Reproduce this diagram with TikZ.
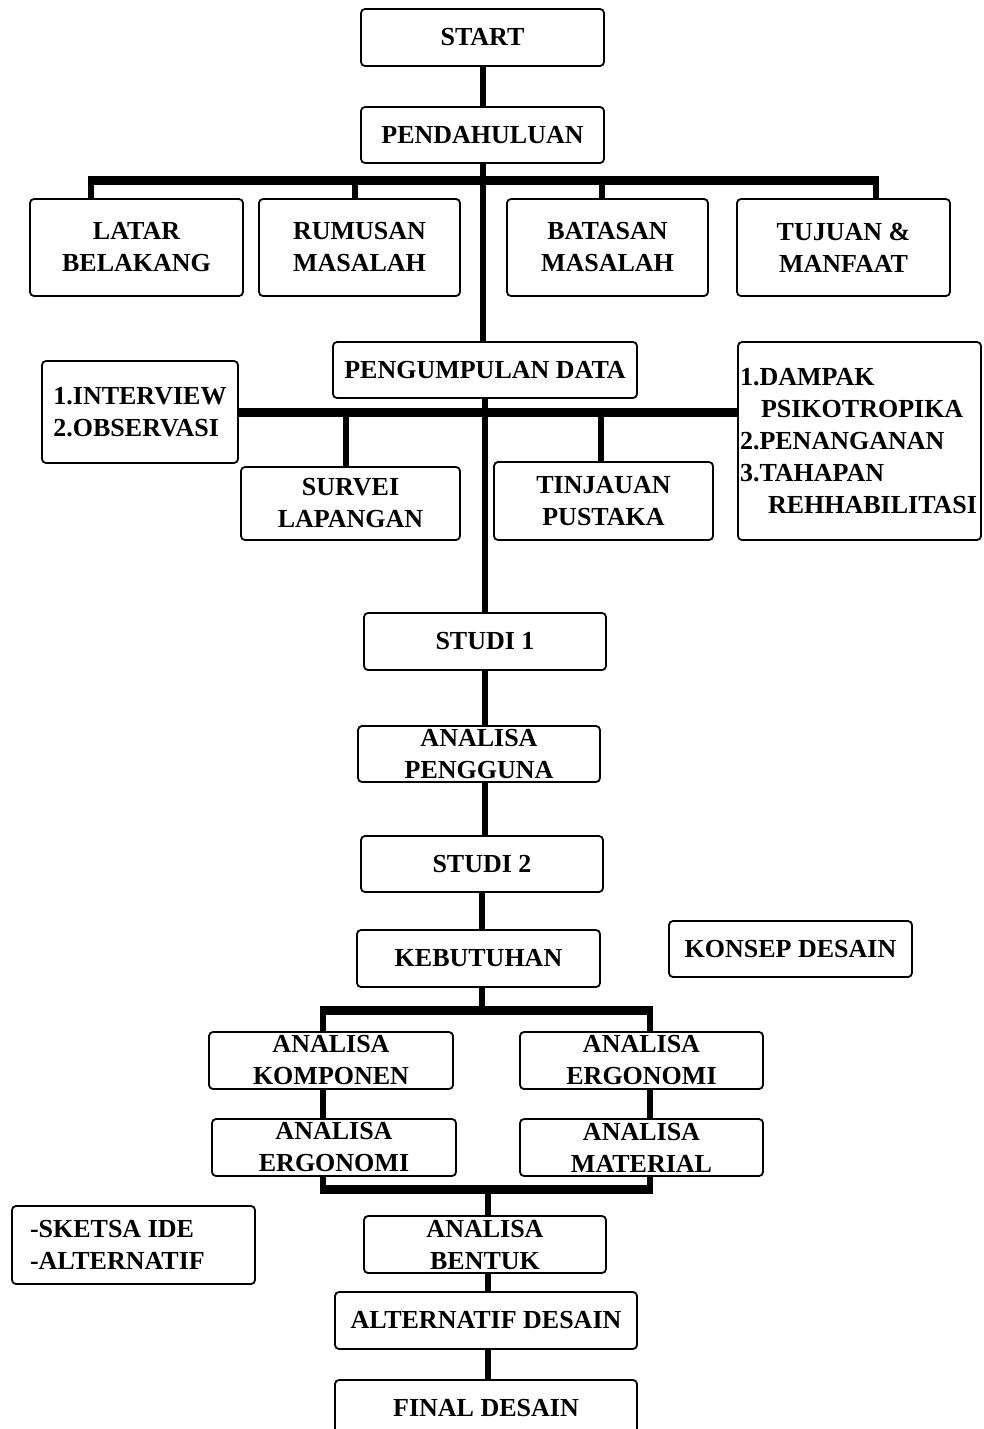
\documentclass[tikz,border=0pt]{standalone}
\usepackage{fontspec}
\setmainfont{Liberation Serif}
\usepackage{tikz}

\begin{document}
\begin{tikzpicture}[x=1pt, y=-1pt,
  flowbox/.style={draw, line width=1.8pt, rounded corners=4pt, fill=white,
    inner sep=1pt, align=center, minimum width=243pt, minimum height=57pt,
    font=\bfseries\fontsize{26}{32}\selectfont},
  trunk/.style={line width=6pt},
  bar/.style={line width=9pt}]
  \useasboundingbox (0,0) rectangle (983,1429);

  % top: start and introduction
  \node[flowbox] (start) at (482.5,37.5) {START};
  \node[flowbox, minimum height=56pt] (pend) at (482.5,135) {PENDAHULUAN};
  \node[flowbox, minimum width=213pt, minimum height=97pt] (lb) at (136.5,247.5) {LATAR\\BELAKANG};
  \node[flowbox, minimum width=201pt, minimum height=97pt] (rm) at (359.5,247.5) {RUMUSAN\\MASALAH};
  \node[flowbox, minimum width=201pt, minimum height=97pt] (bm) at (607.5,247.5) {BATASAN\\MASALAH};
  \node[flowbox, minimum width=213pt, minimum height=97pt] (tm) at (843.5,247.5) {TUJUAN \&\\MANFAAT};

  % data collection
  \node[flowbox, minimum width=304pt, minimum height=56pt] (data) at (485,370) {PENGUMPULAN DATA};
  \node[flowbox, minimum width=196pt, minimum height=102pt, align=left] (iv) at (140,412) {1.INTERVIEW\\2.OBSERVASI};
  \node[flowbox, minimum width=219pt, minimum height=73pt] (sv) at (350.5,503.5) {SURVEI\\LAPANGAN};
  \node[flowbox, minimum width=219pt, minimum height=78pt] (tp) at (603.5,501) {TINJAUAN\\PUSTAKA};
  \node[flowbox, minimum height=198pt, align=flush left, text width=239pt, inner xsep=2pt] (dp) at (859.5,441)
    {1.DAMPAK\\\hspace*{21pt}PSIKOTROPIKA\\2.PENANGANAN\\3.TAHAPAN\\\hspace*{28pt}REHHABILITASI};

  % study chain
  \node[flowbox, minimum width=242pt] (s1) at (485,641.5) {STUDI 1};
  \node[flowbox, minimum width=242pt, minimum height=56pt] (ap) at (479,754) {ANALISA\\PENGGUNA};
  \node[flowbox, minimum width=242pt, minimum height=56pt] (s2) at (482,864) {STUDI 2};
  \node[flowbox] (keb) at (478.5,958.5) {KEBUTUHAN};
  \node[flowbox, minimum height=56pt] (kd) at (790.5,949) {KONSEP DESAIN};

  % analyses
  \node[flowbox, minimum width=244pt] (ak) at (331,1060.5) {ANALISA\\KOMPONEN};
  \node[flowbox] (aer) at (641.5,1060.5) {ANALISA\\ERGONOMI};
  \node[flowbox, minimum width=244pt] (ael) at (334,1147.5) {ANALISA\\ERGONOMI};
  \node[flowbox] (am) at (641.5,1147.5) {ANALISA\\MATERIAL};

  % design
  \node[flowbox, minimum width=242pt] (ab) at (485,1244.5) {ANALISA\\BENTUK};
  \node[flowbox, minimum height=78pt, align=flush left, text width=207pt, inner xsep=18pt] (sk) at (133.5,1245) {-SKETSA IDE\\-ALTERNATIF};
  \node[flowbox, minimum width=302pt] (alt) at (486,1320.5) {ALTERNATIF DESAIN};
  \node[flowbox, minimum width=302pt] (fin) at (486,1408.5) {FINAL DESAIN};

  % first branch
  \coordinate (d1) at (91,180);
  \coordinate (d2) at (355,180);
  \coordinate (d3) at (602,180);
  \coordinate (d4) at (876,180);
  \draw[trunk] (start) -- (pend);
  \draw[trunk] (pend.south) -- (pend.south |- data.north);
  \draw[bar] ([xshift=-3pt]d1) -- ([xshift=3pt]d4);
  \draw[trunk] (d1) -- (d1 |- lb.north);
  \draw[trunk] (d2) -- (d2 |- rm.north);
  \draw[trunk] (d3) -- (d3 |- bm.north);
  \draw[trunk] (d4) -- (d4 |- tm.north);

  % second branch
  \coordinate (e1) at (346,412);
  \coordinate (e2) at (601,412);
  \draw[bar] (iv.east) -- (iv.east -| dp.west);
  \draw[trunk] (e1) -- (e1 |- sv.north);
  \draw[trunk] (e2) -- (e2 |- tp.north);
  \draw[trunk] (data.south) -- (s1.north);

  % study chain
  \draw[trunk] (s1.south) -- (s1.south |- ap.north);
  \draw[trunk] (s1.south |- ap.south) -- (s1.south |- s2.north);
  \draw[trunk] (s2.south) -- (s2.south |- keb.north);

  % frame round the analyses
  \coordinate (f1) at (323,1010);
  \coordinate (f2) at (650,1010);
  \coordinate (g1) at (323,1189);
  \coordinate (g2) at (650,1189);
  \draw[trunk] (s2.south |- keb.south) -- (s2.south |- f1);
  \draw[bar] ([xshift=-3pt]f1) -- ([xshift=3pt]f2);
  \draw[trunk] (f1) -- (f1 |- ak.north);
  \draw[trunk] (f1 |- ak.south) -- (f1 |- ael.north);
  \draw[trunk] (f1 |- ael.south) -- (g1);
  \draw[trunk] (f2) -- (f2 |- aer.north);
  \draw[trunk] (f2 |- aer.south) -- (f2 |- am.north);
  \draw[trunk] (f2 |- am.south) -- (g2);
  \draw[bar] ([xshift=-3pt]g1) -- ([xshift=3pt]g2);
  \draw[trunk] ([xshift=3pt]ab.north |- g1) -- ([xshift=3pt]ab.north);

  % last steps
  \draw[trunk] ([xshift=3pt]ab.south) -- ([xshift=3pt]ab.south |- alt.north);
  \draw[trunk] ([xshift=2pt]alt.south) -- ([xshift=2pt]fin.north);
\end{tikzpicture}
\end{document}
